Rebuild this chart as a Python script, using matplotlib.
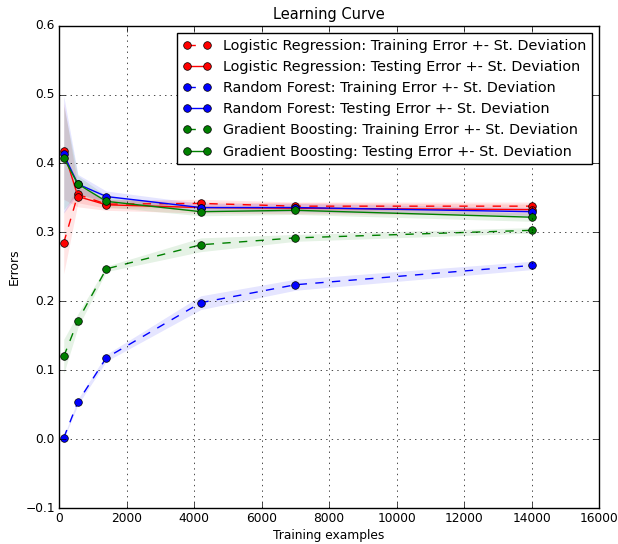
import matplotlib
matplotlib.use("Agg")
import matplotlib.pyplot as plt
import numpy as np

plt.style.use('classic')

train_sizes = [140, 560, 1400, 4200, 7000, 14000]

# Logistic Regression
lr_train = [0.285, 0.355, 0.341, 0.342, 0.338, 0.338]
lr_train_std = [0.045, 0.012, 0.006, 0.006, 0.006, 0.006]
lr_test = [0.418, 0.352, 0.340, 0.336, 0.335, 0.333]
lr_test_std = [0.070, 0.015, 0.008, 0.008, 0.008, 0.008]

# Random Forest
rf_train = [0.002, 0.054, 0.118, 0.198, 0.224, 0.252]
rf_train_std = [0.002, 0.004, 0.005, 0.010, 0.008, 0.006]
rf_test = [0.413, 0.370, 0.352, 0.336, 0.336, 0.330]
rf_test_std = [0.085, 0.014, 0.008, 0.006, 0.006, 0.006]

# Gradient Boosting
gb_train = [0.120, 0.172, 0.247, 0.282, 0.292, 0.303]
gb_train_std = [0.025, 0.010, 0.004, 0.010, 0.005, 0.004]
gb_test = [0.408, 0.370, 0.345, 0.330, 0.332, 0.322]
gb_test_std = [0.075, 0.012, 0.008, 0.006, 0.006, 0.006]

modelos = [
    ("Logistic Regression", "r", lr_train, lr_train_std, lr_test, lr_test_std),
    ("Random Forest", "b", rf_train, rf_train_std, rf_test, rf_test_std),
    ("Gradient Boosting", "g", gb_train, gb_train_std, gb_test, gb_test_std),
]

fig = plt.figure(figsize=(6.18, 5.44), dpi=100)
# ejes colocados a mano para calzar con la referencia
ax = fig.add_axes([0.0955, 0.066, 0.874, 0.887])
x = np.array(train_sizes)

for nombre, c, tr, tr_s, te, te_s in modelos:
    tr = np.array(tr); tr_s = np.array(tr_s)
    te = np.array(te); te_s = np.array(te_s)
    ax.fill_between(x, tr - tr_s, tr + tr_s, alpha=0.1, color=c, lw=0)
    ax.fill_between(x, te - te_s, te + te_s, alpha=0.1, color=c, lw=0)
    ax.plot(x, tr, 'o--', color=c, markersize=5.5,
            label=nombre + ": Training Error +- St. Deviation")
    ax.plot(x, te, 'o-', color=c, markersize=5.5,
            label=nombre + ": Testing Error +- St. Deviation")

ax.set_xlim(0, 16000)
ax.set_ylim(-0.1, 0.6)
ax.set_xlabel("Training examples", fontsize=8.8, labelpad=3)
ax.set_ylabel("Errors", fontsize=8.8, labelpad=3)
ax.set_title("Learning Curve", fontsize=10.5)
ax.tick_params(labelsize=8.8, pad=3)
ax.grid(True)
ax.legend(loc='upper right', fontsize=10.4, borderaxespad=0.5, handlelength=2)

fig.savefig("out.png", dpi=100)
